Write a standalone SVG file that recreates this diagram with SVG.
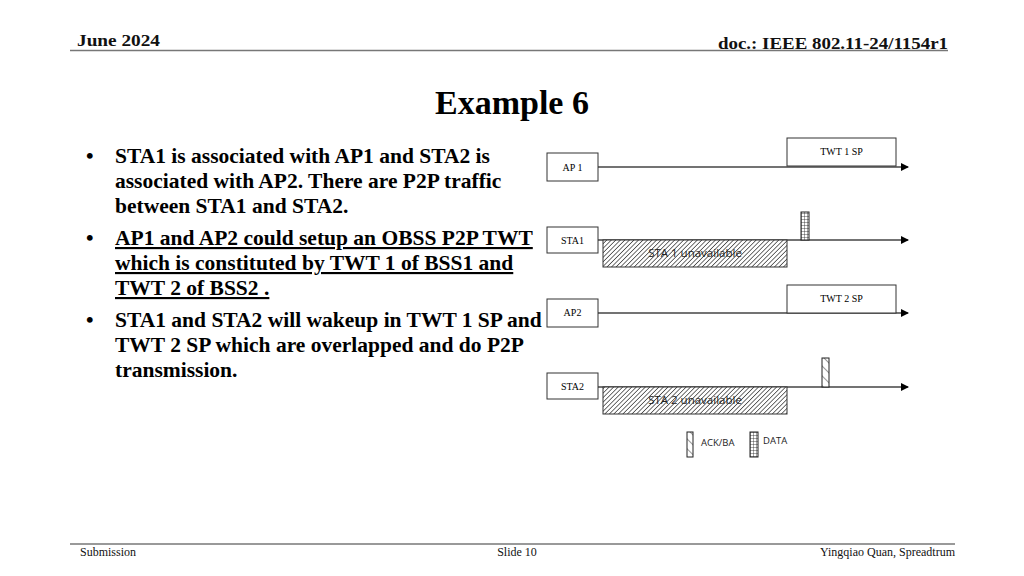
<svg xmlns="http://www.w3.org/2000/svg" width="1024" height="576" viewBox="0 0 1024 576">
<defs>
<pattern id="hatch" patternUnits="userSpaceOnUse" width="3.2" height="3.2" patternTransform="rotate(45)">
<rect width="3.2" height="3.2" fill="#fff"/>
<line x1="0" y1="0" x2="0" y2="3.2" stroke="#222" stroke-width="1.3"/>
</pattern>
<pattern id="ack" patternUnits="userSpaceOnUse" width="7" height="7" patternTransform="rotate(-45)">
<rect width="7" height="7" fill="#fff"/>
<line x1="0" y1="0" x2="0" y2="7" stroke="#333" stroke-width="1"/>
</pattern>
<pattern id="grid" patternUnits="userSpaceOnUse" width="3" height="3">
<rect width="3" height="3" fill="#fff"/>
<path d="M0 0H3M0 0V3" stroke="#222" stroke-width="0.8" fill="none"/>
</pattern>
<marker id="arr" markerWidth="8" markerHeight="8" refX="7" refY="4" orient="auto" markerUnits="userSpaceOnUse">
<path d="M0 0L8 4L0 8Z" fill="#000"/>
</marker>
</defs>
<style>
.hdr{font-family:"Liberation Serif",serif;font-weight:bold;font-size:17px;fill:#111}
.ftr{font-family:"Liberation Serif",serif;font-size:12px;fill:#111}
.title{font-family:"Liberation Serif",serif;font-weight:bold;font-size:34px;fill:#000}
.body{font-family:"Liberation Serif",serif;font-weight:bold;font-size:21.5px;fill:#000}
.lbl{font-family:"Liberation Serif",serif;font-size:10px;fill:#000}
.cal{font-family:"Open Sans","Liberation Sans",sans-serif;font-size:9.5px;fill:#222}
.un{font-family:"Open Sans","Liberation Sans",sans-serif;font-size:11.5px;fill:#222}
.box{fill:#fff;stroke:#333;stroke-width:1}
.tl{stroke:#444;stroke-width:1.3;fill:none}
</style>
<rect width="1024" height="576" fill="#fff"/>
<g id="header">
<text class="hdr" x="77" y="46" textLength="83" lengthAdjust="spacingAndGlyphs">June 2024</text>
<text class="hdr" x="948" y="49" text-anchor="end" textLength="230" lengthAdjust="spacingAndGlyphs">doc.: IEEE 802.11-24/1154r1</text>
<line x1="70" y1="50.5" x2="948" y2="50.5" stroke="#777" stroke-width="1.6"/>
</g>
<g id="title"><text class="title" x="512" y="114" text-anchor="middle">Example 6</text></g>
<g id="bullets">
<text class="body" x="86" y="163">•</text>
<text class="body" x="115" y="163">STA1 is associated with AP1 and STA2 is</text>
<text class="body" x="115" y="188">associated with AP2. There are P2P traffic</text>
<text class="body" x="115" y="213">between STA1 and STA2.</text>
<text class="body" x="86" y="245">•</text>
<text class="body" x="115" y="245" text-decoration="underline">AP1 and AP2 could setup an OBSS P2P TWT</text>
<text class="body" x="115" y="270" text-decoration="underline">which is constituted by TWT 1 of BSS1 and</text>
<text class="body" x="115" y="295" text-decoration="underline">TWT 2 of BSS2 .</text>
<text class="body" x="86" y="327">•</text>
<text class="body" x="115" y="327">STA1 and STA2 will wakeup in TWT 1 SP and</text>
<text class="body" x="115" y="352">TWT 2 SP which are overlapped and do P2P</text>
<text class="body" x="115" y="377">transmission.</text>
</g>
<g id="connectors">
<line class="tl" x1="598" y1="167" x2="908" y2="167" marker-end="url(#arr)"/>
<line class="tl" x1="598" y1="240" x2="908" y2="240" marker-end="url(#arr)"/>
<line class="tl" x1="598" y1="313" x2="908" y2="313" marker-end="url(#arr)"/>
<line class="tl" x1="598" y1="387" x2="908" y2="387" marker-end="url(#arr)"/>
</g>
<g id="ap1"><rect class="box" x="547" y="153" width="51" height="28"/><text class="lbl" x="572.5" y="171" text-anchor="middle">AP 1</text></g>
<g id="twt1"><rect class="box" x="787" y="138" width="109" height="28"/><text class="lbl" x="841.5" y="155" text-anchor="middle">TWT 1 SP</text></g>
<g id="sta1"><rect class="box" x="547" y="227" width="51" height="26"/><text class="lbl" x="572.5" y="244" text-anchor="middle">STA1</text></g>
<g id="sta1-unavail"><rect x="603" y="240" width="184" height="27" fill="url(#hatch)" stroke="#333" stroke-width="1"/><text class="un" x="695" y="257" text-anchor="middle">STA 1 unavailable</text></g>
<g id="sta1-data"><rect x="801" y="212" width="8" height="28" fill="url(#grid)" stroke="#222" stroke-width="1"/></g>
<g id="ap2"><rect class="box" x="547" y="299" width="51" height="28"/><text class="lbl" x="572.5" y="316" text-anchor="middle">AP2</text></g>
<g id="twt2"><rect class="box" x="787" y="285" width="109" height="28"/><text class="lbl" x="841.5" y="302" text-anchor="middle">TWT 2 SP</text></g>
<g id="sta2"><rect class="box" x="547" y="373" width="51" height="26"/><text class="lbl" x="572.5" y="390" text-anchor="middle">STA2</text></g>
<g id="sta2-unavail"><rect x="603" y="387" width="184" height="27" fill="url(#hatch)" stroke="#333" stroke-width="1"/><text class="un" x="695" y="404" text-anchor="middle">STA 2 unavailable</text></g>
<g id="sta2-ack"><rect x="822" y="358" width="7" height="29" fill="url(#ack)" stroke="#222" stroke-width="1"/></g>
<g id="legend-ack"><rect x="687" y="432" width="6" height="25" fill="url(#ack)" stroke="#222" stroke-width="1"/><text class="cal" x="701" y="446">ACK/BA</text></g>
<g id="legend-data"><rect x="750" y="432" width="8" height="25" fill="url(#grid)" stroke="#222" stroke-width="1"/><text class="cal" x="763" y="444">DATA</text></g>
<g id="footer">
<line x1="70" y1="544" x2="955" y2="544" stroke="#777" stroke-width="1.6"/>
<text class="ftr" x="80" y="556">Submission</text>
<text class="ftr" x="517" y="556" text-anchor="middle">Slide 10</text>
<text class="ftr" x="955" y="556" text-anchor="end">Yingqiao Quan, Spreadtrum</text>
</g>
</svg>
